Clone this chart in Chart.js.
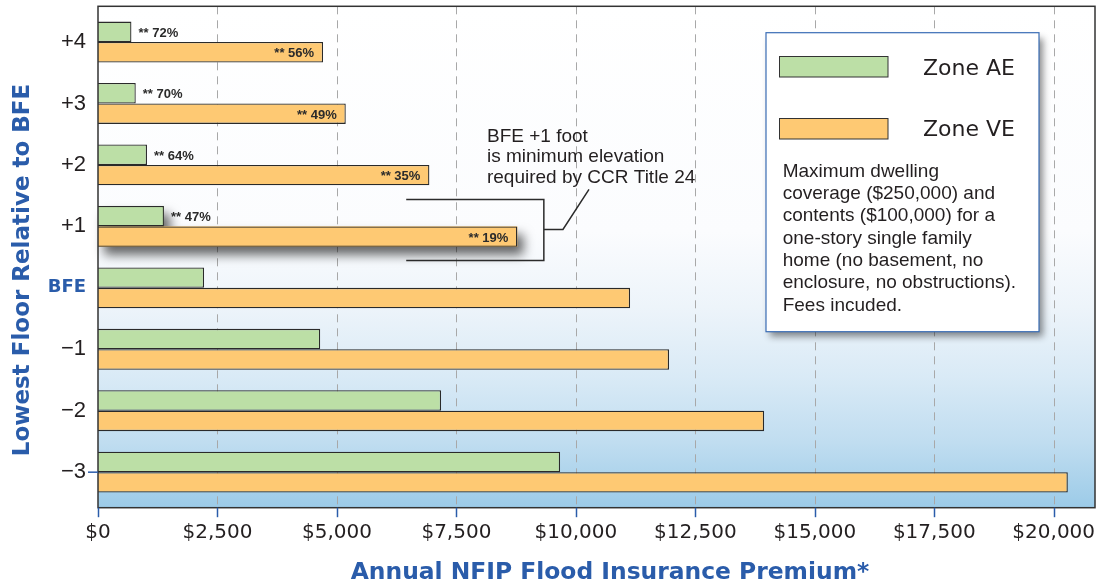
<!DOCTYPE html>
<html><head><meta charset="utf-8">
<script src="https://cdn.jsdelivr.net/npm/chart.js@4.4.1/dist/chart.umd.min.js"></script>
<style>html,body{margin:0;padding:0;background:#fff;}canvas{display:block;}</style>
</head><body>
<canvas id="c" width="1097" height="585"></canvas>
<script>
// ---- data ----
const floorLabels = ['+4', '+3', '+2', '+1', 'BFE', '\u22121', '\u22122', '\u22123'];
const zoneAE = [700, 790, 1025, 1380, 2220, 4650, 7180, 9670];
const zoneVE = [4710, 5185, 6935, 8775, 11135, 11950, 13940, 20295];
const aeNotes = ['** 72%', '** 70%', '** 64%', '** 47%', '', '', '', ''];
const veNotes = ['** 56%', '** 49%', '** 35%', '** 19%', '', '', '', ''];
const xTickValues = [0, 2500, 5000, 7500, 10000, 12500, 15000, 17500, 20000];
const seriesNames = ['Zone AE', 'Zone VE'];
const xTitle = 'Annual NFIP Flood Insurance Premium*';
const yTitle = 'Lowest Floor Relative to BFE';
const calloutLines = ['BFE +1 foot', 'is minimum elevation', 'required by CCR Title 24'];
const legendNote = ['Maximum dwelling', 'coverage ($250,000) and', 'contents ($100,000) for a',
  'one-story single family', 'home (no basement, no', 'enclosure, no obstructions).', 'Fees incuded.'];

// ---- styles ----
const GREEN = '#bcdfa6', ORANGE = '#fec973', EDGE = '#2a2a2a', BLUE = '#2a5caa', INK = '#231f20';
const SANS = '"Liberation Sans", Arial, sans-serif';
const DJ = '"DejaVu Sans", sans-serif';

const framePlugin = {
  id: 'frame',
  beforeDraw(chart) {
    const {ctx, chartArea: a, scales: {x}} = chart;
    const top = a.top - 5, bot = a.bottom + 4.8;
    const g = ctx.createLinearGradient(0, top, 0, bot);
    g.addColorStop(0, '#ffffff');
    g.addColorStop(0.45, '#fbfcfe');
    g.addColorStop(0.6, '#edf4fa');
    g.addColorStop(0.74, '#d9eaf6');
    g.addColorStop(0.87, '#c0ddf0');
    g.addColorStop(1, '#9ccbe8');
    ctx.save();
    ctx.fillStyle = g;
    ctx.fillRect(a.left, top, a.right - a.left, bot - top);
    ctx.strokeStyle = '#a8a8a8';
    ctx.lineWidth = 1;
    ctx.setLineDash([8, 6]);
    x.ticks.forEach(t => {
      if (t.value === 0) return;
      const px = Math.round(x.getPixelForValue(t.value)) + 0.5;
      ctx.beginPath(); ctx.moveTo(px, top); ctx.lineTo(px, bot); ctx.stroke();
    });
    ctx.restore();
  },
  beforeDatasetsDraw(chart) {
    const {ctx} = chart;
    ctx.save();
    ctx.shadowColor = 'rgba(0,0,0,0.6)';
    ctx.shadowBlur = 11;
    ctx.shadowOffsetX = 6;
    ctx.shadowOffsetY = 8;
    chart.data.datasets.forEach((ds, di) => {
      const el = chart.getDatasetMeta(di).data[3];
      const l = Math.min(el.base, el.x), w = Math.abs(el.x - el.base);
      ctx.fillStyle = ds.backgroundColor;
      ctx.fillRect(l, el.y - el.height / 2, w, el.height);
    });
    ctx.restore();
  },
  afterDatasetsDraw(chart) {
    const {ctx, chartArea: a, scales: {x, y}} = chart;
    const top = a.top - 5, bot = a.bottom + 4.8;
    ctx.save();
    // value notes
    ctx.font = 'bold 13px ' + SANS;
    ctx.fillStyle = '#2b2b2b';
    ctx.textBaseline = 'middle';
    chart.data.datasets.forEach((ds, di) => {
      chart.getDatasetMeta(di).data.forEach((el, i) => {
        const t = ds.notes[i];
        if (!t) return;
        if (di === 0) { ctx.textAlign = 'left'; ctx.fillText(t, el.x + 7, el.y + 1.5); }
        else { ctx.textAlign = 'right'; ctx.fillText(t, el.x - 9, el.y + 1.5); }
      });
    });
    // frame
    ctx.strokeStyle = '#333333';
    ctx.lineWidth = 1.5;
    ctx.strokeRect(a.left, top, a.right - a.left, bot - top);
    // blue tick marks
    ctx.strokeStyle = BLUE;
    ctx.lineWidth = 1.5;
    x.ticks.forEach(t => {
      const px = Math.round(x.getPixelForValue(t.value)) + 0.5;
      ctx.beginPath(); ctx.moveTo(px, bot); ctx.lineTo(px, bot + 9.5); ctx.stroke();
    });
    const ly = y.getPixelForValue(7);
    ctx.beginPath(); ctx.moveTo(a.left - 10, ly); ctx.lineTo(a.left, ly); ctx.stroke();
    // callout bracket for +1
    const cy = y.getPixelForValue(3);
    const xa = x.getPixelForValue(6450), xb = x.getPixelForValue(9330);
    const xe = x.getPixelForValue(9730), xt = x.getPixelForValue(10275);
    ctx.strokeStyle = '#2b2b2b';
    ctx.lineWidth = 1.5;
    ctx.beginPath();
    ctx.moveTo(xa, cy - 27); ctx.lineTo(xb, cy - 27); ctx.lineTo(xb, cy + 34); ctx.lineTo(xa, cy + 34);
    ctx.moveTo(xb, cy + 3); ctx.lineTo(xe, cy + 3); ctx.lineTo(xt, cy - 37);
    ctx.stroke();
    ctx.fillStyle = INK;
    ctx.font = '19px ' + SANS;
    ctx.textAlign = 'left';
    ctx.textBaseline = 'alphabetic';
    const tx = x.getPixelForValue(8140);
    calloutLines.forEach((s, i) => ctx.fillText(s, tx, cy - 84.7 + i * 20.5));
    // legend box
    const bx = 766, by = 32.7, bw = 273, bh = 299;
    ctx.save();
    ctx.shadowColor = 'rgba(0,0,0,0.45)';
    ctx.shadowBlur = 7; ctx.shadowOffsetX = 4; ctx.shadowOffsetY = 5;
    ctx.fillStyle = '#ffffff';
    ctx.fillRect(bx, by, bw, bh);
    ctx.restore();
    ctx.strokeStyle = '#3a6db5';
    ctx.lineWidth = 1.2;
    ctx.strokeRect(bx, by, bw, bh);
    chart.data.datasets.forEach((ds, di) => {
      const sy = 56.5 + di * 62;
      ctx.fillStyle = ds.backgroundColor;
      ctx.fillRect(779.5, sy, 108.5, 20.5);
      ctx.strokeStyle = '#333';
      ctx.lineWidth = 1;
      ctx.strokeRect(779.5, sy, 108.5, 20.5);
      ctx.fillStyle = INK;
      ctx.font = '22px ' + DJ;
      ctx.fillText(ds.label, 923, 75 + di * 60.5);
    });
    ctx.font = '19px ' + SANS;
    legendNote.forEach((s, i) => ctx.fillText(s, 782.7, 176.7 + i * 22.3));
    ctx.restore();
  },
  afterDraw(chart) {
    const {ctx} = chart;
    ctx.save();
    ctx.fillStyle = BLUE;
    ctx.font = 'bold 23.4px ' + DJ;
    ctx.textAlign = 'center';
    ctx.textBaseline = 'alphabetic';
    ctx.fillText(xTitle, 610, 579);
    ctx.translate(29, 270);
    ctx.rotate(-Math.PI / 2);
    ctx.font = 'bold 23px ' + DJ;
    ctx.fillText(yTitle, 0, 0);
    ctx.restore();
  }
};

new Chart(document.getElementById('c'), {
  type: 'bar',
  data: {
    labels: floorLabels,
    datasets: [
      {label: seriesNames[0], data: zoneAE, notes: aeNotes, backgroundColor: GREEN, borderColor: EDGE,
       borderWidth: 1.3, borderSkipped: 'start', categoryPercentage: 0.665, barPercentage: 1},
      {label: seriesNames[1], data: zoneVE, notes: veNotes, backgroundColor: ORANGE, borderColor: EDGE,
       borderWidth: 1.3, borderSkipped: 'start', categoryPercentage: 0.665, barPercentage: 1}
    ]
  },
  options: {
    indexAxis: 'y',
    responsive: false,
    animation: false,
    devicePixelRatio: 1,
    layout: {padding: {top: 11.3, right: 2, left: 0, bottom: 0}},
    plugins: {legend: {display: false}, tooltip: {enabled: false}},
    scales: {
      x: {
        type: 'linear', min: 0, max: 20864,
        grid: {display: false, drawTicks: false}, border: {display: false},
        afterFit: s => { s.height = 82.1; s.paddingLeft = 0; s.paddingRight = 0; },
        afterBuildTicks: s => { s.ticks = xTickValues.map(v => ({value: v})); },
        ticks: {
          padding: 18, color: INK, maxRotation: 0, autoSkip: false, includeBounds: false,
          font: {family: DJ, size: 20},
          callback: v => '$' + Number(v).toLocaleString('en-US')
        }
      },
      y: {
        grid: {display: false, drawTicks: false}, border: {display: false},
        afterFit: s => { s.width = 98; s.paddingTop = 0; s.paddingBottom = 0; },
        ticks: {
          padding: 12, autoSkip: false,
          color: c => c.index === 4 ? BLUE : INK,
          font: c => c.index === 4 ? {family: DJ, size: 18, weight: 'bold'} : {family: SANS, size: 22}
        }
      }
    }
  },
  plugins: [framePlugin]
});
</script>
</body></html>
